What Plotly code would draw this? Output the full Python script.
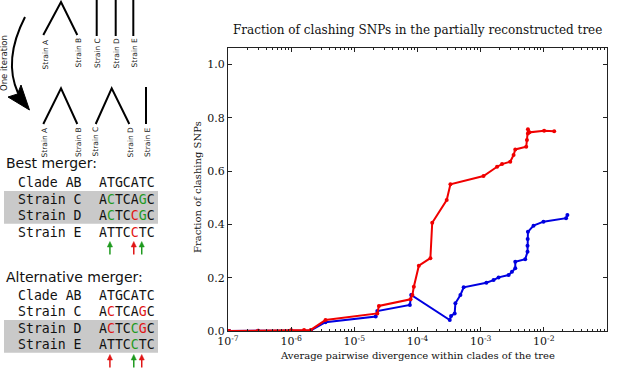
import plotly.graph_objects as go

W, H = 617, 368

# ---------------- data ----------------
red_x = [1.05e-7, 3e-7, 1.0e-6, 1.6e-6, 2.04e-6, 3.5e-6, 2.31e-5, 2.45e-5, 7.76e-5, 8.3e-5,
         8.75e-5, 1.05e-4, 1.60e-4, 1.71e-4, 2.9e-4, 3.32e-4, 1.11e-3, 1.82e-3, 2.18e-3,
         2.94e-3, 3.32e-3, 3.53e-3, 5.26e-3, 5.40e-3, 5.6e-3, 5.6e-3, 5.93e-3, 1.01e-2, 1.46e-2]
red_y = [0.0, 0.001, 0.003, 0.004, 0.004, 0.041, 0.066, 0.094, 0.119, 0.135,
         0.166, 0.245, 0.273, 0.406, 0.491, 0.550, 0.581, 0.616, 0.626,
         0.635, 0.660, 0.681, 0.691, 0.716, 0.741, 0.757, 0.745, 0.751, 0.749]

blue_x = [1.05e-7, 3e-7, 1.0e-6, 2.04e-6, 3.5e-6, 2.18e-5, 2.31e-5, 7.57e-5, 7.94e-5,
          3.24e-4, 3.40e-4, 3.88e-4, 3.98e-4, 4.78e-4, 5.38e-4, 1.23e-3, 1.60e-3, 1.92e-3,
          2.77e-3, 3.13e-3, 3.53e-3, 3.53e-3, 5.07e-3, 5.52e-3, 5.52e-3, 5.55e-3, 5.6e-3,
          6.87e-3, 9.86e-3, 2.25e-2, 2.36e-2]
blue_y = [0.0, 0.001, 0.002, 0.002, 0.033, 0.054, 0.075, 0.0975, 0.135,
          0.041, 0.056, 0.066, 0.104, 0.135, 0.164, 0.181, 0.191, 0.201,
          0.210, 0.222, 0.235, 0.260, 0.269, 0.297, 0.320, 0.345, 0.372,
          0.395, 0.410, 0.423, 0.435]

x_tick_vals = [1e-7, 1e-6, 1e-5, 1e-4, 1e-3, 1e-2, 1e-1]
x_tick_text = ["10<sup>-7</sup>", "10<sup>-6</sup>", "10<sup>-5</sup>", "10<sup>-4</sup>",
               "10<sup>-3</sup>", "10<sup>-2</sup>", "10<sup>-1</sup>"]
y_tick_vals = [0.0, 0.2, 0.4, 0.6, 0.8, 1.0]
y_tick_text = ["0.0", "0.2", "0.4", "0.6", "0.8", "1.0"]

chart_title = "Fraction of clashing SNPs in the partially reconstructed tree"
x_title = "Average pairwise divergence within clades of the tree"
y_title = "Fraction of clashing SNPs"

strains_top = ["Strain A", "Strain B", "Strain C", "Strain D", "Strain E"]

RED = "#e01515"
GREEN = "#1f9a1f"
best_rows = [
    ("Clade AB", "ATGCATC", {}),
    ("Strain C", "ACTCAGC", {1: GREEN, 5: GREEN}),
    ("Strain D", "ACTCCGC", {1: GREEN, 4: RED, 5: GREEN}),
    ("Strain E", "ATTCCTC", {4: RED}),
]
best_arrows = [(1, GREEN), (4, RED), (5, GREEN)]
alt_rows = [
    ("Clade AB", "ATGCATC", {}),
    ("Strain C", "ACTCAGC", {1: RED, 5: RED}),
    ("Strain D", "ACTCCGC", {1: RED, 4: GREEN, 5: RED}),
    ("Strain E", "ATTCCTC", {4: GREEN}),
]
alt_arrows = [(1, RED), (4, GREEN), (5, RED)]

# ---------------- helpers ----------------
def PX(x):
    return x / W

def PY(y):
    return 1 - y / H

def path(points, close=False):
    s = "M " + " L ".join(f"{PX(x):.5f},{PY(y):.5f}" for x, y in points)
    return s + (" Z" if close else "")

fig = go.Figure()
fig.add_trace(go.Scatter(x=blue_x, y=blue_y, mode="lines+markers",
                         line=dict(color="#0000e0", width=2),
                         marker=dict(size=4, color="#0000e0")))
fig.add_trace(go.Scatter(x=red_x, y=red_y, mode="lines+markers",
                         line=dict(color="#f00000", width=2),
                         marker=dict(size=4, color="#f00000")))

minor_vals = [k * 10.0 ** e for e in range(-7, -1) for k in range(2, 10)]
serif = "DejaVu Serif"

fig.update_layout(
    width=W, height=H, margin=dict(l=0, r=0, t=0, b=0, autoexpand=False),
    paper_bgcolor="white", plot_bgcolor="white", showlegend=False,
    xaxis=dict(type="log", range=[-7, -1], domain=[PX(228), PX(607)],
               showline=True, linecolor="#222", linewidth=1, mirror="allticks",
               ticks="inside", ticklen=4, tickcolor="#222",
               tickmode="array", tickvals=x_tick_vals, ticktext=x_tick_text,
               tickfont=dict(family=serif, size=11, color="#111"),
               showgrid=False, zeroline=False, automargin=False,
               minor=dict(ticks="inside", ticklen=2, tickcolor="#222",
                          tickmode="array", tickvals=minor_vals, showgrid=False)),
    yaxis=dict(range=[0, 1.0613], domain=[PY(331), PY(48)],
               showline=True, linecolor="#222", linewidth=1, mirror="allticks",
               ticks="inside", ticklen=4, tickcolor="#222",
               tickmode="array", tickvals=y_tick_vals, ticktext=y_tick_text,
               tickfont=dict(family=serif, size=11, color="#111"),
               showgrid=False, zeroline=False, automargin=False),
)

ann = []
ann.append(dict(x=PX(417), y=PY(30), text=chart_title, showarrow=False,
                xref="paper", yref="paper", xanchor="center", yanchor="middle",
                font=dict(family=serif, size=12, color="#111")))
ann.append(dict(x=PX(417), y=PY(355), text=x_title, showarrow=False,
                xref="paper", yref="paper", xanchor="center", yanchor="middle",
                font=dict(family=serif, size=10, color="#111")))
ann.append(dict(x=PX(197), y=PY(187), text=y_title, showarrow=False, textangle=-90,
                xref="paper", yref="paper", xanchor="center", yanchor="middle",
                font=dict(family=serif, size=10, color="#111")))

shapes = []
LINE = dict(color="black", width=2)

# top tree
shapes.append(dict(type="path", path=path([(43.3, 35), (61, 2), (77.3, 35)]),
                   xref="paper", yref="paper", line=LINE))
for x in (96.7, 115.7, 133.3):
    shapes.append(dict(type="path", path=path([(x, 0), (x, 36)]),
                       xref="paper", yref="paper", line=LINE))
# bottom trees
shapes.append(dict(type="path", path=path([(43.3, 124), (61, 88.3), (77.3, 124)]),
                   xref="paper", yref="paper", line=LINE))
shapes.append(dict(type="path", path=path([(95.7, 124), (111.7, 88.3), (129.3, 124)]),
                   xref="paper", yref="paper", line=LINE))
shapes.append(dict(type="path", path=path([(146, 87), (146, 124)]),
                   xref="paper", yref="paper", line=LINE))

for name, x in zip(strains_top, (45, 77.5, 97, 116, 133.5)):
    ann.append(dict(x=PX(x), y=PY(37), text=name, showarrow=False, textangle=-90,
                    xref="paper", yref="paper", xanchor="center", yanchor="top",
                    borderpad=0, font=dict(family="DejaVu Sans", size=7.5, color="#222")))
for name, x in zip(strains_top, (44, 78, 94.5, 130, 147)):
    ann.append(dict(x=PX(x), y=PY(126), text=name, showarrow=False, textangle=-90,
                    xref="paper", yref="paper", xanchor="center", yanchor="top",
                    borderpad=0, font=dict(family="DejaVu Sans", size=7.5, color="#222")))

# curved arrow
shapes.append(dict(type="path",
                   path=f"M {PX(25):.5f},{PY(17):.5f} Q {PX(3):.5f},{PY(60):.5f} {PX(18):.5f},{PY(93):.5f}",
                   xref="paper", yref="paper", line=LINE))
shapes.append(dict(type="path", path=path([(29.5, 110), (8, 97), (17.5, 94), (21, 85)], close=True),
                   xref="paper", yref="paper", line=dict(color="black", width=1),
                   fillcolor="black"))
ann.append(dict(x=PX(4), y=PY(63), text="One iteration", showarrow=False, textangle=-90,
                xref="paper", yref="paper", xanchor="center", yanchor="middle",
                borderpad=0, font=dict(family="DejaVu Sans", size=8.5, color="#222")))

MONO = "DejaVu Sans Mono"
CW = 7.95
SEQ_X = 98


def seq_html(seq, colors):
    out = ""
    for i, ch in enumerate(seq):
        if i in colors:
            out += f"<span style='color:{colors[i]}'>{ch}</span>"
        else:
            out += ch
    return out


def block(header, header_y, rows, row_y0, gray_rows, arrows, arrow_tip):
    ann.append(dict(x=PX(4.5), y=PY(header_y), text=header, showarrow=False,
                    xref="paper", yref="paper", xanchor="left", yanchor="middle",
                    borderpad=0, font=dict(family="DejaVu Sans", size=14, color="#111")))
    step = 16.4
    g0 = row_y0 + gray_rows[0] * step - step / 2
    g1 = row_y0 + gray_rows[1] * step + step / 2
    shapes.append(dict(type="rect", x0=PX(4), x1=PX(158), y0=PY(g0), y1=PY(g1),
                       xref="paper", yref="paper", line=dict(width=0),
                       fillcolor="#c9c9c9", layer="below"))
    for i, (name, seq, cols) in enumerate(rows):
        yy = row_y0 + i * step
        ann.append(dict(x=PX(17), y=PY(yy), text=name, showarrow=False,
                        xref="paper", yref="paper", xanchor="left", yanchor="middle",
                        borderpad=0, font=dict(family=MONO, size=13.2, color="#111")))
        ann.append(dict(x=PX(SEQ_X), y=PY(yy), text=seq_html(seq, cols), showarrow=False,
                        xref="paper", yref="paper", xanchor="left", yanchor="middle",
                        borderpad=0, font=dict(family=MONO, size=13.2, color="#111")))
    for col, c in arrows:
        xc = SEQ_X + (col + 0.5) * CW
        shapes.append(dict(type="line", x0=PX(xc), x1=PX(xc), y0=PY(arrow_tip + 4),
                           y1=PY(arrow_tip + 13), xref="paper", yref="paper",
                           line=dict(color=c, width=1.5)))
        shapes.append(dict(type="path",
                           path=path([(xc - 2.6, arrow_tip + 5.5), (xc, arrow_tip), (xc + 2.6, arrow_tip + 5.5)], close=True),
                           xref="paper", yref="paper", line=dict(color=c, width=0.5),
                           fillcolor=c))


block("Best merger:", 163.3, best_rows, 182.8, (1, 2), best_arrows, 241.5)
block("Alternative merger:", 276.7, alt_rows, 295.3, (2, 3), alt_arrows, 354.5)

fig.update_layout(annotations=ann, shapes=shapes)
fig.write_html("out.html", config={"displayModeBar": False},
               post_script="document.body.style.margin='0';document.body.style.overflow='hidden';")
